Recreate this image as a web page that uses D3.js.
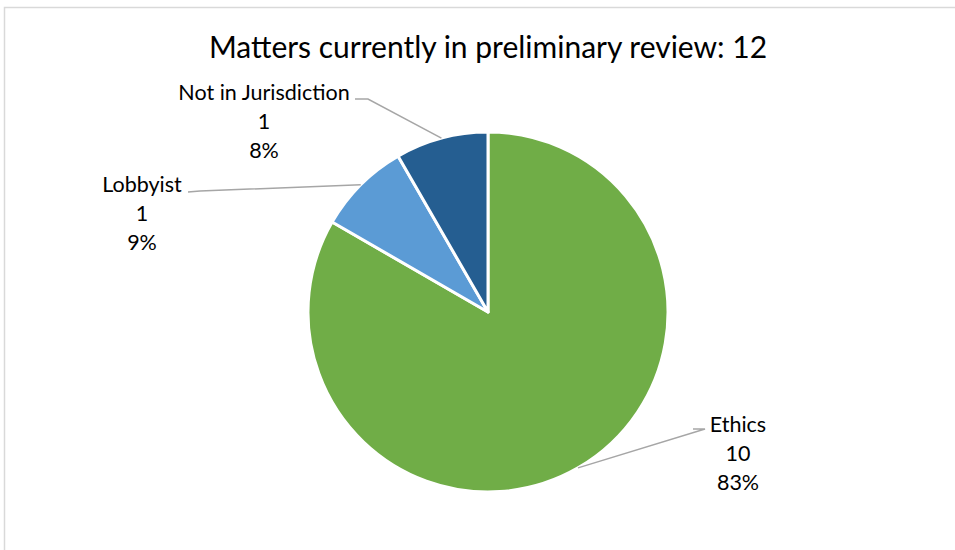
<!DOCTYPE html>
<html lang="en">

<head>
	<meta charset="UTF-8" />
	<title>Matters currently in preliminary review</title>
	<script src="https://cdn.jsdelivr.net/npm/d3@7"></script>
	<style>
		body { margin: 0; background: #fff; }
		text { font-family: Lato, "Open Sans", sans-serif; fill: #000; }
	</style>
</head>

<body>
	<svg id="vis" width="955" height="550"></svg>

	<script>
		// Donnees
		var categories = ["Ethics", "Lobbyist", "Not in Jurisdiction"];
		var valeurs = [10, 1, 1];
		var pourcentages = ["83%", "9%", "8%"];
		var couleurs = ["#70AD47", "#5B9BD5", "#255E91"];
		var titre = "Matters currently in preliminary review: 12";

		// Mise en page
		var cx = 488, cy = 312, rayon = 180;
		// position des etiquettes (centre x, ligne de base y) et coude de la ligne
		var etiquettes = [
			{ x: 738, y: 432, coude: [705, 429], bout: [693, 429] },
			{ x: 142, y: 192, coude: [200, 191], bout: [188, 192] },
			{ x: 264, y: 100, coude: [368, 99], bout: [355, 99] }
		];

		var svg = d3.select("#vis");

		// Cadre du graphique
		svg.append("rect")
			.attr("x", 4.5)
			.attr("y", 7.5)
			.attr("width", 1000)
			.attr("height", 600)
			.attr("fill", "none")
			.attr("stroke", "#d9d9d9")
			.attr("stroke-width", 1.5);

		// Titre
		svg.append("text")
			.attr("x", cx)
			.attr("y", 58)
			.attr("text-anchor", "middle")
			.attr("font-size", 30)
			.text(titre);

		var pie = d3.pie().sort(null);
		var arcs = pie(valeurs);

		var arc = d3.arc().innerRadius(0).outerRadius(rayon);
		var arcBord = d3.arc().innerRadius(rayon).outerRadius(rayon);

		var gPie = svg.append("g")
			.attr("transform", "translate(" + cx + "," + cy + ")");

		gPie.selectAll("path")
			.data(arcs)
			.enter()
			.append("path")
			.attr("d", arc)
			.attr("fill", function (d, i) { return couleurs[i]; })
			.attr("stroke", "#fff")
			.attr("stroke-width", 3)
			.attr("stroke-linejoin", "round");

		// Lignes de rappel
		var ligne = d3.line();
		for (var i = 0; i < arcs.length; i++) {
			var p = arcBord.centroid(arcs[i]);
			var e = etiquettes[i];
			svg.append("path")
				.attr("d", ligne([[cx + p[0], cy + p[1]], e.coude, e.bout]))
				.attr("fill", "none")
				.attr("stroke", "#A6A6A6")
				.attr("stroke-width", 1.5);
		}

		// Etiquettes
		for (var j = 0; j < categories.length; j++) {
			var t = svg.append("text")
				.attr("text-anchor", "middle")
				.attr("font-size", 21.5);
			var lignes = [categories[j], String(valeurs[j]), pourcentages[j]];
			for (var k = 0; k < lignes.length; k++) {
				t.append("tspan")
					.attr("x", etiquettes[j].x)
					.attr("y", etiquettes[j].y + k * 29)
					.text(lignes[k]);
			}
		}
	</script>
</body>

</html>
